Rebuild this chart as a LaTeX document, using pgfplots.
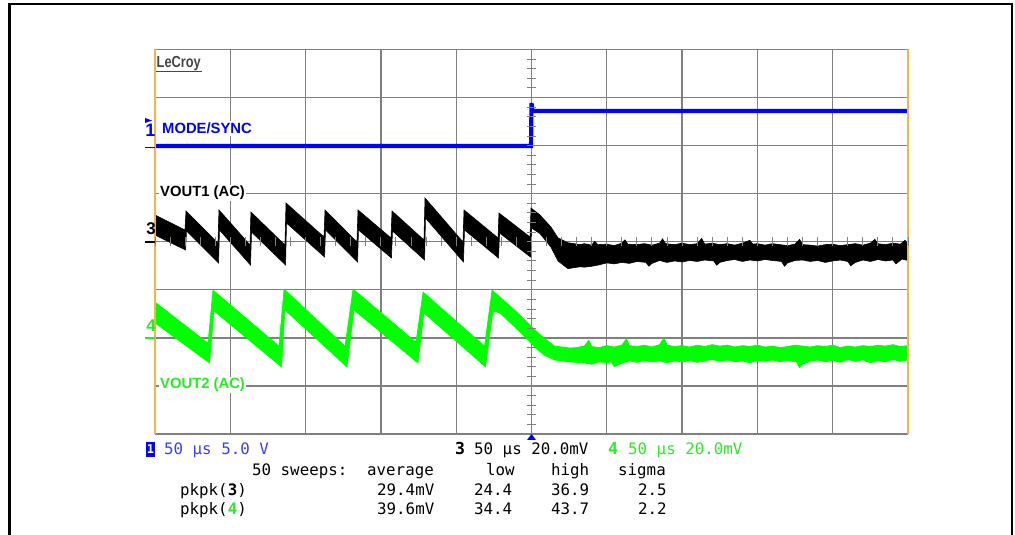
\documentclass[border=0pt]{standalone}
\usepackage{pgfplots}
\pgfplotsset{compat=1.18}
\usepackage{fontspec}
\setmainfont{Liberation Sans}
\newfontfamily\mono{DejaVu Sans Mono}
\definecolor{scopeblue}{RGB}{0,0,255}
\definecolor{scopegreen}{RGB}{0,255,0}
\definecolor{gridgray}{RGB}{128,128,128}
\definecolor{edgeorange}{RGB}{245,180,70}
\definecolor{txtblue}{RGB}{60,60,255}
\definecolor{txtgreen}{RGB}{40,235,40}
\definecolor{logogray}{RGB}{70,70,70}
\begin{document}
\begin{tikzpicture}[x=1pt,y=1pt]
\useasboundingbox (0,0) rectangle (1015,535);
\begin{scope}
\clip (0,0) rectangle (1015,535);
\draw[black, line width=2.6pt] (9.5,-5) -- (9.5,531) -- (1012,531) -- (1012,-5);
\end{scope}
\begin{axis}[at={(155pt,101pt)}, anchor=south west, width=753pt, height=384.5pt,
  scale only axis, xmin=-250, xmax=250, ymin=-4, ymax=4,
  xtick={-250,-200,...,250}, ytick={-4,-3,...,4},
  xticklabels={}, yticklabels={}, major tick length=0pt,
  grid=major, major grid style={gridgray, line width=1.3pt},
  axis line style={draw=none}, clip=true]
% channel 1 (MODE/SYNC), in divisions
\addplot[scopeblue, line width=4.2pt] coordinates {(-250,1.993) (-0.3,1.993) (0,2.887) (0.6,2.721) (250,2.721)};
% channel 3 (VOUT1), sawtooth band: upper envelope then lower envelope
\addplot[draw=black, fill=black, line width=0.6pt] coordinates {
(-250,0.557) (-230.1,0.245) (-229.4,0.640) (-208.2,-0.026) (-207.5,0.661)
(-186.9,-0.068) (-186.3,0.619) (-163.7,-0.068) (-163.0,0.806) (-137.8,0.099)
(-137.1,0.661) (-115.9,-0.005) (-115.2,0.661) (-93.3,0.078) (-92.6,0.640)
(-71.4,0.036) (-70.7,0.910) (-45.5,-0.005) (-44.8,0.661) (-22.2,0.078)
(-21.6,0.598) (-1.0,0.099) (-0.3,0.702) (5.6,0.557) (12.9,0.307) (17.6,0.080)
(24.2,-0.020) (32.2,-0.060)
(35,-0.04) (40,-0.07) (42,0.01) (44,-0.06) (50,-0.05) (55,-0.08) (60,-0.03) (62,0.04)
(64,-0.05) (70,-0.06) (75,-0.04) (80,-0.07) (85,-0.03) (87,0.06) (89,-0.04) (95,-0.06)
(100,-0.03) (105,-0.06) (110,-0.04) (113,0.07) (115,-0.05) (120,-0.03) (125,-0.06)
(130,-0.04) (135,-0.07) (140,-0.03) (145,0.03) (147,-0.05) (150,-0.04) (155,-0.07)
(160,-0.04) (165,-0.06) (170,-0.08) (175,-0.05) (178,0.05) (180,-0.06) (185,-0.07)
(190,-0.09) (195,-0.06) (200,-0.05) (205,-0.08) (210,-0.06) (215,-0.04) (220,-0.07)
(225,-0.03) (228,0.05) (230,-0.04) (235,-0.06) (240,-0.03) (245,-0.05) (248,0.03) (250,-0.04)
(250,-0.39) (246,-0.36) (242,-0.46) (240,-0.38) (235,-0.40) (230,-0.37) (225,-0.41)
(220,-0.38) (215,-0.43) (212,-0.50) (210,-0.41) (205,-0.38) (200,-0.40) (195,-0.43)
(190,-0.39) (185,-0.41) (180,-0.38) (175,-0.39) (170,-0.44) (168,-0.51) (166,-0.41)
(160,-0.39) (155,-0.37) (150,-0.40) (145,-0.38) (140,-0.41) (135,-0.37) (130,-0.39)
(125,-0.43) (123,-0.49) (121,-0.40) (115,-0.38) (110,-0.41) (105,-0.39) (100,-0.42)
(95,-0.40) (90,-0.43) (85,-0.39) (80,-0.45) (78,-0.51) (76,-0.43) (70,-0.41) (65,-0.45)
(60,-0.43) (55,-0.46) (50,-0.44) (45,-0.48) (40,-0.51) (35,-0.53)
(32.2,-0.520) (24.2,-0.560) (17.6,-0.400) (12.9,-0.110) (5.6,0.170) (0.0,0.286)
(-0.7,-0.317) (-21.2,0.182) (-21.9,-0.338) (-44.5,0.245) (-45.2,-0.421)
(-70.4,0.494) (-71.0,-0.380) (-92.3,0.224) (-93.0,-0.338) (-114.9,0.245)
(-115.5,-0.421) (-136.8,0.245) (-137.4,-0.317) (-162.7,0.390) (-163.3,-0.484)
(-185.9,0.203) (-186.6,-0.484) (-207.2,0.245) (-207.8,-0.442) (-229.1,0.224)
(-229.7,-0.172) (-250,0.140)
};
% channel 4 (VOUT2)
\addplot[draw=scopegreen, fill=scopegreen, line width=0.6pt] coordinates {
(-250,-1.254) (-214.8,-2.107) (-211.5,-1.004) (-167.7,-2.170) (-164.3,-0.983)
(-123.8,-2.170) (-118.5,-0.983) (-76.7,-2.087) (-72.0,-1.046) (-31.2,-2.170)
(-26.2,-1.004) (-20.9,-1.150) (-7.6,-1.524) (1.7,-1.816) (8.3,-2.003) (15.3,-2.169)
(25.6,-2.211)
(30,-2.20) (35,-2.17) (38,-2.05) (40,-2.18) (45,-2.20) (50,-2.16) (55,-2.19) (60,-2.15)
(63,-2.02) (65,-2.16) (70,-2.18) (75,-2.15) (80,-2.19) (85,-2.14) (88,-2.00) (90,-2.15)
(95,-2.18) (100,-2.16) (105,-2.19) (110,-2.15) (115,-2.18) (120,-2.14) (125,-2.17)
(130,-2.15) (135,-2.19) (140,-2.16) (145,-2.18) (150,-2.15) (155,-2.19) (160,-2.17)
(165,-2.20) (170,-2.18) (175,-2.15) (180,-2.17) (185,-2.19) (190,-2.16) (195,-2.18)
(200,-2.15) (205,-2.20) (210,-2.17) (215,-2.19) (220,-2.16) (225,-2.18) (230,-2.15)
(235,-2.17) (240,-2.14) (245,-2.18) (250,-2.16)
(250,-2.46) (245,-2.49) (240,-2.45) (235,-2.50) (230,-2.47) (225,-2.52) (220,-2.46)
(215,-2.49) (210,-2.45) (205,-2.51) (200,-2.47) (195,-2.50) (190,-2.46) (185,-2.49)
(180,-2.55) (178,-2.62) (176,-2.50) (170,-2.47) (165,-2.50) (160,-2.46) (155,-2.49)
(150,-2.47) (145,-2.52) (140,-2.48) (135,-2.50) (130,-2.46) (125,-2.49) (120,-2.45)
(115,-2.48) (110,-2.51) (105,-2.47) (100,-2.50) (95,-2.48) (90,-2.52) (85,-2.48)
(80,-2.50) (75,-2.47) (70,-2.51) (65,-2.48) (60,-2.53) (55,-2.60) (53,-2.50) (50,-2.52)
(45,-2.50) (40,-2.55) (35,-2.52)
(25.6,-2.502) (15.3,-2.461) (8.3,-2.357) (2.3,-2.190) (-7.6,-1.878) (-20.9,-1.483)
(-25.6,-1.442) (-30.5,-2.606) (-71.4,-1.483) (-75.4,-2.523) (-117.9,-1.421)
(-122.5,-2.606) (-163.7,-1.421) (-166.0,-2.606) (-210.8,-1.442) (-213.8,-2.523)
(-250,-1.690)
};
\end{axis}
% screen border
\draw[gridgray, line width=1.3pt] (155,101) -- (908,101);
\draw[gridgray, line width=1.3pt] (155,485.5) -- (908,485.5);
\draw[edgeorange, line width=1.6pt] (155,101) -- (155,485.5);
\draw[edgeorange, line width=1.6pt] (908,101) -- (908,485.5);
% centre graticule minor ticks
\foreach \k in {0,...,40} {\draw[gridgray, line width=1pt] (527,101+\k*9.6125) -- (536,101+\k*9.6125);}
\foreach \k in {0,...,50} {\draw[gridgray, line width=1pt] (155+\k*15.06,289) -- (155+\k*15.06,297.5);}
% logo
\node[anchor=west, inner sep=0pt, text=logogray, font=\fontsize{16}{16}\selectfont\bfseries] at (156.5,471) {\scalebox{0.8}[1]{LeCroy}};
\draw[logogray, line width=1.2pt] (156,463.5) -- (202,463.5);
% trace labels
\node[anchor=west, fill=white, inner sep=1.5pt, text=scopeblue, font=\fontsize{14.8}{14.8}\selectfont\bfseries] at (160.5,406.5) {MODE/SYNC};
\node[anchor=west, fill=white, inner sep=1.5pt, text=black, font=\fontsize{14.8}{14.8}\selectfont\bfseries] at (158.5,342) {VOUT1 (AC)};
\node[anchor=west, fill=white, inner sep=1.5pt, text=txtgreen, font=\fontsize{14.8}{14.8}\selectfont\bfseries] at (158.5,150) {VOUT2 (AC)};
% channel markers
\node[inner sep=0pt, text=scopeblue, font=\fontsize{18}{18}\selectfont\bfseries] at (150.5,405) {1};
\fill[scopeblue] (145,417) -- (152,414.5) -- (145,412) -- cycle;
\draw[scopeblue, line width=1.8pt] (145,387.5) -- (155,387.5);
\node[inner sep=0pt, text=black, font=\fontsize{17}{17}\selectfont\bfseries] at (151,306.5) {3};
\draw[black, line width=1.8pt] (145,293) -- (155,293);
\node[inner sep=0pt, text=txtgreen, font=\fontsize{17}{17}\selectfont\bfseries] at (151,209) {4};
\draw[txtgreen, line width=1.8pt] (145,197) -- (155,197);
% trigger marker
\fill[scopeblue] (527,95) -- (536,95) -- (531.5,101) -- cycle;
% readout
\fill[scopeblue] (146,78) rectangle (155,93);
\node[inner sep=0pt, text=white, font=\mono\fontsize{12}{12}\selectfont\bfseries] at (150.5,85.5) {1};
\begin{scope}[every node/.style={anchor=base west, inner sep=0pt, font=\mono\fontsize{15.8}{15.8}\selectfont}]
\node[text=txtblue] at (164,80) {50 µs 5.0 V};
\node[text=black, font=\mono\fontsize{16.5}{16.5}\selectfont\bfseries] at (455,80) {3};
\node[text=black] at (474,80) {50 µs 20.0mV};
\node[text=txtgreen, font=\mono\fontsize{16.5}{16.5}\selectfont\bfseries] at (608,80) {4};
\node[text=txtgreen] at (628,80) {50 µs 20.0mV};
\node at (252,59) {50 sweeps:};
\node at (367,59) {average};
\node at (486,59) {low};
\node at (551,59) {high};
\node at (618,59) {sigma};
\node at (180,39) {pkpk(\textbf{3})};
\node at (377,39) {29.4mV};
\node at (474,39) {24.4};
\node at (551,39) {36.9};
\node at (638,39) {2.5};
\node at (180,20) {pkpk(\textcolor{txtgreen}{\textbf{4}})};
\node at (377,20) {39.6mV};
\node at (474,20) {34.4};
\node at (551,20) {43.7};
\node at (638,20) {2.2};
\end{scope}
\end{tikzpicture}
\end{document}
